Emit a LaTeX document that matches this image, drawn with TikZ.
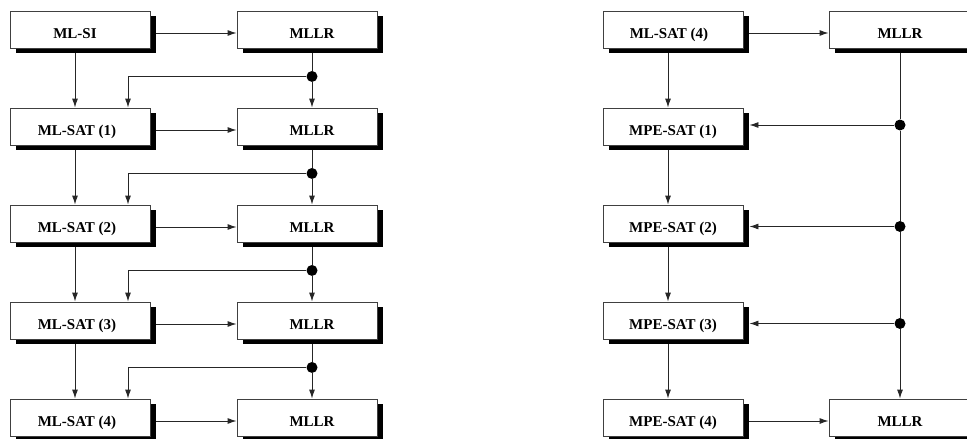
\documentclass[tikz,border=0pt]{standalone}
\usepackage{fontspec}
\setmainfont{Liberation Serif}
\usetikzlibrary{arrows.meta,calc,shadows}
% label placed inside a box, moved sideways by #1
\newcommand\offtext[2]{\hspace*{#1}#2\hspace*{-#1}}
\begin{document}
\begin{tikzpicture}[x=1pt,y=-1pt,
  stage/.style={draw=black!75, line width=0.9pt, fill=white,
    minimum width=140pt, minimum height=37pt, inner sep=0pt,
    text height=18pt, text depth=0pt,
    font=\fontsize{15}{18}\selectfont\bfseries,
    general shadow={fill=black, shadow xshift=6pt, shadow yshift=-5pt}},
  flow/.style={draw=black!85, line width=0.9pt, -{Latex[length=9pt,width=6pt]}},
  link/.style={draw=black!85, line width=0.9pt},
  junction/.style={circle, fill=black, inner sep=0pt, minimum size=11pt}]
\useasboundingbox (0,0) rectangle (967,439);

% ---- left chain: ML training with MLLR feedback ----
\node[stage] (L1) at (80,29.5)  {\offtext{-5pt}{ML-SI}};
\node[stage] (L2) at (80,126.5) {\offtext{-3pt}{ML-SAT (1)}};
\node[stage] (L3) at (80,223.5) {\offtext{-3pt}{ML-SAT (2)}};
\node[stage] (L4) at (80,320.5) {\offtext{-3pt}{ML-SAT (3)}};
\node[stage] (L5) at (80,417.5) {\offtext{-3pt}{ML-SAT (4)}};
\node[stage] (M1) at (307,29.5)  {\offtext{5pt}{MLLR}};
\node[stage] (M2) at (307,126.5) {\offtext{5pt}{MLLR}};
\node[stage] (M3) at (307,223.5) {\offtext{5pt}{MLLR}};
\node[stage] (M4) at (307,320.5) {\offtext{5pt}{MLLR}};
\node[stage] (M5) at (307,417.5) {\offtext{5pt}{MLLR}};

% ---- right chain: MPE training ----
\node[stage] (R1) at (673,29.5)  {\offtext{-4pt}{ML-SAT (4)}};
\node[stage] (P1) at (673,126.5) {MPE-SAT (1)};
\node[stage] (P2) at (673,223.5) {MPE-SAT (2)};
\node[stage] (P3) at (673,320.5) {MPE-SAT (3)};
\node[stage] (P4) at (673,417.5) {MPE-SAT (4)};
\node[stage, minimum width=142pt] (N1) at (900,29.5)  {MLLR};
\node[stage, minimum width=142pt] (N2) at (900,417.5) {MLLR};

% horizontal arrows into the MLLR boxes
\foreach \a/\b in {L1/M1,L2/M2,L3/M3,L4/M4,L5/M5,R1/N1,P4/N2}
  \draw[flow] ($(\a.east)+(6,3.5)$) -- ($(\b.west)+(0,3.5)$);

% vertical arrows down the ML / MPE columns
\foreach \a/\b in {L1/L2,L2/L3,L3/L4,L4/L5,R1/P1,P1/P2,P2/P3,P3/P4}
  \draw[flow] ($(\a.south)+(-5,5)$) -- ($(\b.north)+(-5,0)$);

% MLLR transforms fed back into the next ML-SAT stage
\foreach \m/\n/\l [count=\i] in {M1/M2/L2,M2/M3/L3,M3/M4/L4,M4/M5/L5}{
  \node[junction] (J\i) at ($(\m.south)+(5,28)$) {};
  \draw[link] ($(\m.south)+(5,5)$) -- (J\i);
  \draw[flow] (J\i) -- ($(\n.north)+(5,0)$);
  \draw[flow] (J\i) -| ($(\l.north)+(48,0)$);
}

% one MLLR transform shared by all MPE-SAT stages
\node[junction] (K1) at ($(N1.south |- P1.east)+(0,-1.5)$) {};
\node[junction] (K2) at ($(N1.south |- P2.east)+(0,3)$) {};
\node[junction] (K3) at ($(N1.south |- P3.east)+(0,3)$) {};
\draw[link] ($(N1.south)+(0,5)$) -- (K1) -- (K2) -- (K3);
\draw[flow] (K3) -- (N2.north);
\foreach \k/\p in {K1/P1,K2/P2,K3/P3}
  \draw[flow] (\k) -- ($(\k -| \p.east)+(6,0)$);
\end{tikzpicture}
\end{document}
